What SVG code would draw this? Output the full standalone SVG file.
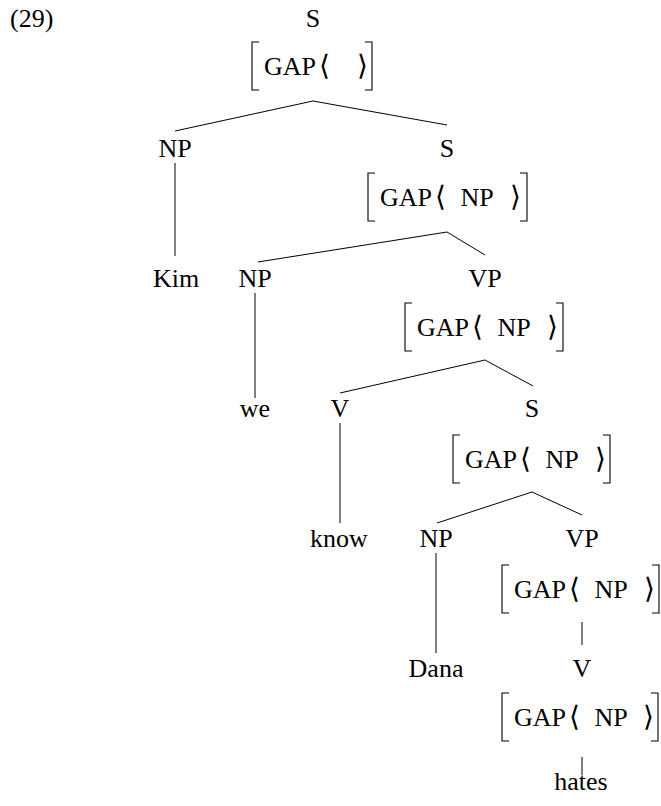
<svg xmlns="http://www.w3.org/2000/svg" width="661" height="806" viewBox="0 0 661 806">
<rect width="661" height="806" fill="#fff"/>
<g id="connectors" stroke="#000" stroke-width="1" fill="none">
<line x1="313" y1="101" x2="175" y2="131"/>
<line x1="313" y1="101" x2="447" y2="125"/>
<line x1="175" y1="163" x2="175" y2="256"/>
<line x1="447" y1="232" x2="258" y2="262"/>
<line x1="447" y1="232" x2="485" y2="255"/>
<line x1="255" y1="293" x2="255" y2="398"/>
<line x1="485" y1="360" x2="340" y2="393"/>
<line x1="485" y1="360" x2="533" y2="386"/>
<line x1="340" y1="423" x2="340" y2="523"/>
<line x1="532" y1="492" x2="437" y2="523"/>
<line x1="532" y1="492" x2="582" y2="515"/>
<line x1="436" y1="553" x2="436" y2="653"/>
<line x1="582" y1="622" x2="582" y2="645"/>
<line x1="582" y1="757" x2="582" y2="775"/>
</g>
<text x="10" y="27" font-family="Liberation Serif" font-size="26">(29)</text>

<g id="n-S-root" text-anchor="middle">
<text x="313" y="27" font-family="Liberation Serif" font-size="26">S</text>
<path fill="none" stroke="#000" stroke-width="1.1" d="M259,42H252V90H259M365,42H372V90H365"/>
<text x="264" y="75" text-anchor="start" font-family="Liberation Serif" font-size="26">GAP</text>
<text x="324" y="75" font-family="Liberation Serif" font-size="28">⟨</text>
<text x="362" y="75" font-family="Liberation Serif" font-size="28">⟩</text>
</g>

<g id="n-NP-1" text-anchor="middle">
<text x="175" y="157" font-family="Liberation Serif" font-size="26">NP</text>
</g>
<g id="n-S-2" text-anchor="middle">
<text x="447" y="157" font-family="Liberation Serif" font-size="26">S</text>
<path fill="none" stroke="#000" stroke-width="1.1" d="M375,173H368V221H375M520,173H527V221H520"/>
<text x="380" y="206" text-anchor="start" font-family="Liberation Serif" font-size="26">GAP</text>
<text x="440" y="206" font-family="Liberation Serif" font-size="28">⟨</text>
<text x="477" y="206" font-family="Liberation Serif" font-size="26">NP</text>
<text x="515" y="206" font-family="Liberation Serif" font-size="28">⟩</text>
</g>

<g id="n-Kim" text-anchor="middle"><text x="176" y="287" font-family="Liberation Serif" font-size="26">Kim</text></g>
<g id="n-NP-2" text-anchor="middle"><text x="255" y="287" font-family="Liberation Serif" font-size="26">NP</text></g>
<g id="n-VP-1" text-anchor="middle">
<text x="485" y="287" font-family="Liberation Serif" font-size="26">VP</text>
<path fill="none" stroke="#000" stroke-width="1.1" d="M412,303H405V351H412M556,303H563V351H556"/>
<text x="417" y="336" text-anchor="start" font-family="Liberation Serif" font-size="26">GAP</text>
<text x="477" y="336" font-family="Liberation Serif" font-size="28">⟨</text>
<text x="514" y="336" font-family="Liberation Serif" font-size="26">NP</text>
<text x="552" y="336" font-family="Liberation Serif" font-size="28">⟩</text>
</g>

<g id="n-we" text-anchor="middle"><text x="255" y="417" font-family="Liberation Serif" font-size="26">we</text></g>
<g id="n-V-1" text-anchor="middle"><text x="340" y="417" font-family="Liberation Serif" font-size="26">V</text></g>
<g id="n-S-3" text-anchor="middle">
<text x="532" y="417" font-family="Liberation Serif" font-size="26">S</text>
<path fill="none" stroke="#000" stroke-width="1.1" d="M460,435H453V483H460M603,435H610V483H603"/>
<text x="465" y="468" text-anchor="start" font-family="Liberation Serif" font-size="26">GAP</text>
<text x="525" y="468" font-family="Liberation Serif" font-size="28">⟨</text>
<text x="562" y="468" font-family="Liberation Serif" font-size="26">NP</text>
<text x="600" y="468" font-family="Liberation Serif" font-size="28">⟩</text>
</g>

<g id="n-know" text-anchor="middle"><text x="339" y="547" font-family="Liberation Serif" font-size="26">know</text></g>
<g id="n-NP-3" text-anchor="middle"><text x="436" y="547" font-family="Liberation Serif" font-size="26">NP</text></g>
<g id="n-VP-2" text-anchor="middle">
<text x="582" y="547" font-family="Liberation Serif" font-size="26">VP</text>
<path fill="none" stroke="#000" stroke-width="1.1" d="M509,565H502V613H509M652,565H659V613H652"/>
<text x="514" y="598" text-anchor="start" font-family="Liberation Serif" font-size="26">GAP</text>
<text x="574" y="598" font-family="Liberation Serif" font-size="28">⟨</text>
<text x="611" y="598" font-family="Liberation Serif" font-size="26">NP</text>
<text x="649" y="598" font-family="Liberation Serif" font-size="28">⟩</text>
</g>

<g id="n-Dana" text-anchor="middle"><text x="436" y="677" font-family="Liberation Serif" font-size="26">Dana</text></g>
<g id="n-V-2" text-anchor="middle">
<text x="582" y="677" font-family="Liberation Serif" font-size="26">V</text>
<path fill="none" stroke="#000" stroke-width="1.1" d="M509,693H502V741H509M651,693H658V741H651"/>
<text x="514" y="726" text-anchor="start" font-family="Liberation Serif" font-size="26">GAP</text>
<text x="574" y="726" font-family="Liberation Serif" font-size="28">⟨</text>
<text x="611" y="726" font-family="Liberation Serif" font-size="26">NP</text>
<text x="648" y="726" font-family="Liberation Serif" font-size="28">⟩</text>
</g>

<g id="n-hates" text-anchor="middle"><text x="581" y="790" font-family="Liberation Serif" font-size="26">hates</text></g>
</svg>
